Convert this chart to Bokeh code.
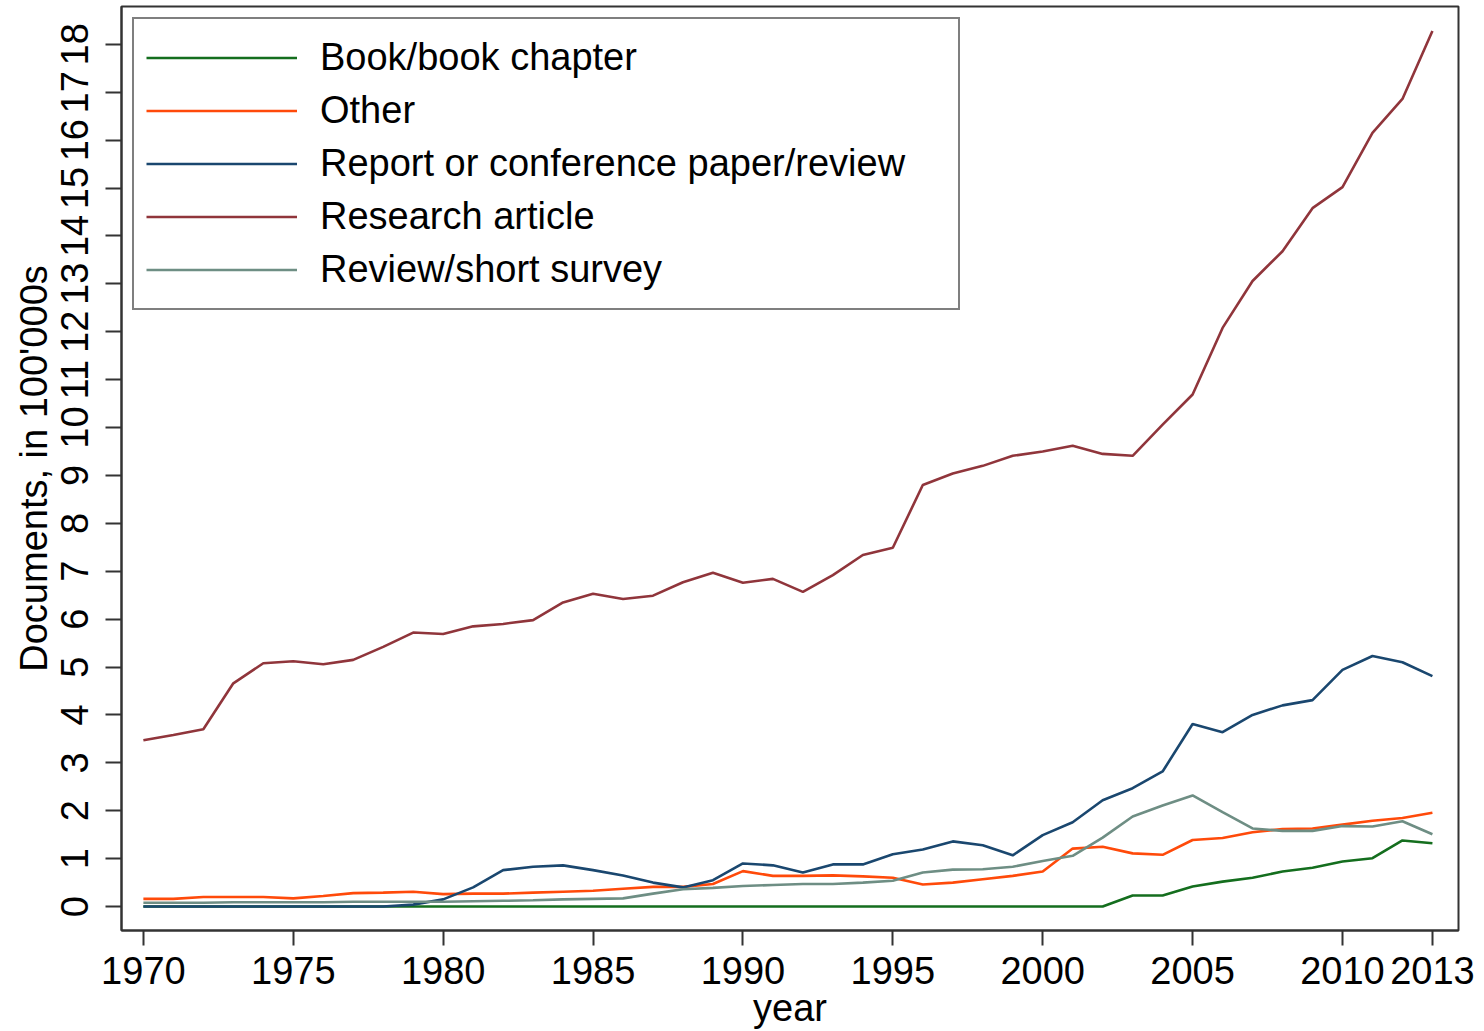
from bokeh.plotting import figure
from bokeh.models import FixedTicker, Range1d
from bokeh.embed import file_html
from bokeh.resources import INLINE

years = list(range(1970, 2014))

book = [0.0, 0.0, 0.0, 0.0, 0.0, 0.0, 0.0, 0.0, 0.0, 0.0,
        0.0, 0.0, 0.0, 0.0, 0.0, 0.0, 0.0, 0.0, 0.0, 0.0,
        0.0, 0.0, 0.0, 0.0, 0.0, 0.0, 0.0, 0.0, 0.0, 0.0,
        0.0, 0.0, 0.0, 0.23, 0.23, 0.42, 0.52, 0.60, 0.73, 0.81,
        0.94, 1.01, 1.38, 1.32]

other = [0.16, 0.16, 0.20, 0.20, 0.20, 0.17, 0.22, 0.28, 0.29, 0.31,
         0.26, 0.27, 0.27, 0.29, 0.31, 0.33, 0.37, 0.41, 0.41, 0.47,
         0.74, 0.64, 0.64, 0.65, 0.63, 0.60, 0.46, 0.50, 0.57, 0.64,
         0.73, 1.21, 1.25, 1.11, 1.08, 1.39, 1.43, 1.55, 1.62, 1.63,
         1.71, 1.79, 1.85, 1.96]

report = [0.0, 0.0, 0.0, 0.0, 0.0, 0.0, 0.0, 0.0, 0.0, 0.04,
          0.15, 0.40, 0.76, 0.83, 0.86, 0.76, 0.65, 0.50, 0.40, 0.55,
          0.90, 0.86, 0.71, 0.88, 0.88, 1.09, 1.19, 1.36, 1.28, 1.07,
          1.49, 1.76, 2.22, 2.47, 2.82, 3.81, 3.64, 4.00, 4.20, 4.31,
          4.94, 5.23, 5.10, 4.81]

research = [3.47, 3.58, 3.70, 4.66, 5.08, 5.12, 5.06, 5.15, 5.42, 5.72,
            5.69, 5.85, 5.90, 5.98, 6.35, 6.53, 6.42, 6.49, 6.77, 6.97,
            6.76, 6.84, 6.57, 6.92, 7.34, 7.49, 8.80, 9.04, 9.20, 9.41,
            9.50, 9.62, 9.45, 9.41, 10.06, 10.69, 12.08, 13.06, 13.68, 14.58,
            15.02, 16.15, 16.86, 18.28]

review = [0.08, 0.08, 0.08, 0.09, 0.09, 0.09, 0.09, 0.10, 0.10, 0.10,
          0.10, 0.11, 0.12, 0.13, 0.15, 0.16, 0.17, 0.27, 0.36, 0.39,
          0.43, 0.45, 0.47, 0.47, 0.50, 0.54, 0.71, 0.77, 0.78, 0.83,
          0.95, 1.06, 1.44, 1.88, 2.11, 2.32, 1.97, 1.63, 1.58, 1.58,
          1.68, 1.67, 1.78, 1.51]

series_names = ["Book/book chapter", "Other", "Report or conference paper/review",
                "Research article", "Review/short survey"]
series_values = [book, other, report, research, review]
series_colors = ["#146e1e", "#ff4a0a", "#1a476f", "#90353b", "#6e8e84"]

x_ticks = [1970, 1975, 1980, 1985, 1990, 1995, 2000, 2005, 2010, 2013]
y_ticks = list(range(0, 19))

FONT = "Liberation Sans"

p = figure(width=1476, height=1031, output_backend="svg", toolbar_location=None,
           x_range=Range1d(1969.27, 2013.87), y_range=Range1d(-0.5, 18.79),
           min_border_left=121, min_border_right=18, min_border_top=6,
           min_border_bottom=20)

for name, vals, col in zip(series_names, series_values, series_colors):
    p.line(years, vals, line_color=col, line_width=2.6, legend_label=name)

p.xgrid.grid_line_color = None
p.ygrid.grid_line_color = None
p.outline_line_color = "#333333"
p.outline_line_width = 2
p.background_fill_color = "white"
p.border_fill_color = "white"

p.xaxis.ticker = FixedTicker(ticks=x_ticks)
p.yaxis.ticker = FixedTicker(ticks=y_ticks)
p.yaxis.major_label_orientation = "vertical"

for ax in (p.xaxis[0], p.yaxis[0]):
    ax.axis_line_color = "#333333"
    ax.axis_line_width = 2
    ax.major_tick_line_color = "#333333"
    ax.major_tick_line_width = 2
    ax.major_tick_in = 0
    ax.minor_tick_line_color = None
    ax.major_label_text_font = FONT
    ax.major_label_text_font_size = "38px"
    ax.major_label_text_color = "black"
    ax.axis_label_text_font = FONT
    ax.axis_label_text_font_size = "38px"
    ax.axis_label_text_font_style = "normal"
    ax.axis_label_text_color = "black"

p.xaxis.major_tick_out = 15
p.xaxis.major_label_standoff = 11
p.xaxis.axis_label_standoff = 0
p.xaxis.axis_label = "year"
p.yaxis.major_tick_out = 16
p.yaxis.major_label_standoff = 17
p.yaxis.axis_label_standoff = 4
p.yaxis.axis_label = "Documents, in 100'000s"

lg = p.legend[0]
lg.location = "top_left"
lg.margin = 11
lg.padding = 12
lg.spacing = 0
lg.glyph_width = 151
lg.glyph_height = 53
lg.label_height = 53
lg.label_width = 626
lg.label_standoff = 23
lg.label_text_font = FONT
lg.label_text_font_size = "38px"
lg.label_text_color = "black"
lg.border_line_color = "black"
lg.border_line_width = 2
lg.background_fill_color = "white"
lg.background_fill_alpha = 1.0

open("out.html", "w").write(file_html(p, INLINE))
